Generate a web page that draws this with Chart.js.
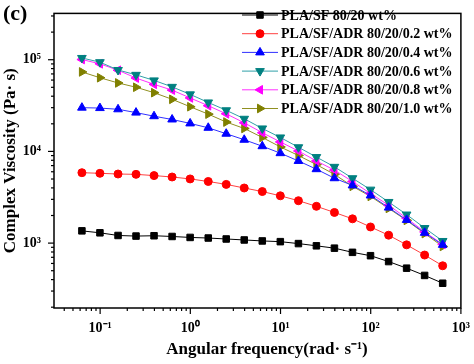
<!DOCTYPE html>
<html>
<head>
<meta charset="utf-8">
<script src="https://cdn.jsdelivr.net/npm/chart.js@4"></script>
<style>
  html, body { margin: 0; padding: 0; background: #fff; }
  #wrap { width: 474px; height: 364px; }
</style>
</head>
<body>
<div id="wrap"><canvas id="viscChart" width="474" height="364"></canvas></div>
<script>
// angular frequency (rad/s), 5 points per decade
var freq = [0.0628, 0.0995, 0.158, 0.250, 0.396, 0.628, 0.995, 1.58, 2.50, 3.96,
            6.28, 9.95, 15.8, 25.0, 39.6, 62.8, 99.5, 158, 250, 396, 628];

// complex viscosity (Pa·s)
var plaSf   = [1360, 1295, 1211, 1193, 1203, 1181, 1153, 1136, 1109, 1082,
               1056, 1037, 988, 934, 881, 793, 729, 629, 533, 444, 365];
var adr02   = [5860, 5770, 5670, 5620, 5450, 5260, 5010, 4700, 4370, 3990,
               3650, 3280, 2900, 2520, 2160, 1840, 1500, 1220, 957, 741, 566];
var adr04   = [30000, 29700, 28800, 26500, 24200, 22300, 20200, 18100, 15600, 13400,
               11400, 9570, 7870, 6400, 5100, 4260, 3310, 2440, 1790, 1295, 957];
var adr06   = [104500, 94000, 77300, 68400, 59500, 50600, 41900, 34200, 28100, 22700,
               17800, 14200, 11100, 8680, 6790, 5100, 3830, 2810, 2050, 1460, 1055];
var adr08   = [100500, 90200, 76800, 63100, 53900, 46600, 38300, 31500, 25700, 20500,
               16000, 12700, 10100, 7870, 6250, 4700, 3470, 2590, 1870, 1325, 970];
var adr10   = [73600, 63600, 55800, 50100, 43700, 37000, 30700, 25500, 20900, 17800,
               14200, 11200, 9020, 7180, 5620, 4160, 3230, 2390, 1770, 1270, 920];

var seriesNames = ['PLA/SF 80/20 wt%', 'PLA/SF/ADR 80/20/0.2 wt%', 'PLA/SF/ADR 80/20/0.4 wt%',
                   'PLA/SF/ADR 80/20/0.6 wt%', 'PLA/SF/ADR 80/20/0.8 wt%', 'PLA/SF/ADR 80/20/1.0 wt%'];

var FONT = "'Liberation Serif', 'Times New Roman', serif";
var SUP = { '-': '\u207B', '0': '\u2070', '1': '\u00B9', '2': '\u00B2', '3': '\u00B3',
            '4': '\u2074', '5': '\u2075', '6': '\u2076', '7': '\u2077', '8': '\u2078', '9': '\u2079' };

function pow10Label(v) {
  var e = Math.log10(v);
  if (Math.abs(e - Math.round(e)) > 1e-6) return '';
  return '10' + String(Math.round(e)).split('').map(function(c) { return SUP[c]; }).join('');
}

function toPoints(vals) {
  return vals.map(function(v, i) { return { x: freq[i], y: v }; });
}

function makeSet(idx, vals, color, lineColor, style, rot, r) {
  return {
    label: seriesNames[idx],
    data: toPoints(vals),
    borderColor: lineColor,
    borderWidth: 1,
    backgroundColor: color,
    pointBackgroundColor: color,
    pointBorderColor: color,
    pointBorderWidth: 1,
    pointStyle: style,
    rotation: rot,
    pointRadius: r,
    tension: 0
  };
}

// frame, log tick marks, x title, (c) tag and legend
var decorPlugin = {
  id: 'decor',
  afterDraw: function(chart) {
    var ctx = chart.ctx, a = chart.chartArea;
    ctx.save();
    ctx.strokeStyle = '#000';
    ctx.lineWidth = 1.5;
    ctx.strokeRect(a.left, a.top, a.right - a.left, a.bottom - a.top);

    ctx.lineWidth = 1.2;
    ['x', 'y'].forEach(function(id) {
      var s = chart.scales[id];
      var e0 = Math.floor(Math.log10(s.min)), e1 = Math.ceil(Math.log10(s.max));
      for (var e = e0; e <= e1; e++) {
        for (var m = 1; m <= 9; m++) {
          var v = m * Math.pow(10, e);
          if (v < s.min * 0.999 || v > s.max * 1.001) continue;
          var len = m === 1 ? 6 : 3;
          var p = s.getPixelForValue(v);
          ctx.beginPath();
          if (id === 'x') { ctx.moveTo(p, a.bottom); ctx.lineTo(p, a.bottom + len); }
          else { ctx.moveTo(a.left, p); ctx.lineTo(a.left - len, p); }
          ctx.stroke();
        }
      }
    });

    ctx.fillStyle = '#000';
    ctx.textBaseline = 'middle';
    ctx.textAlign = 'center';
    ctx.font = 'bold 17px ' + FONT;
    ctx.fillText('Angular frequency(rad\u00B7 s\u207B\u00B9)', 267, 350);

    ctx.textAlign = 'left';
    ctx.font = 'bold 22px ' + FONT;
    ctx.fillText('(c)', 3, 14);

    ctx.font = 'bold 14px ' + FONT;
    chart.data.datasets.forEach(function(ds, i) {
      var y = 15 + i * 18.7;
      ctx.strokeStyle = ds.borderColor;
      ctx.lineWidth = 1;
      ctx.beginPath();
      ctx.moveTo(242, y);
      ctx.lineTo(278, y);
      ctx.stroke();
      ctx.fillStyle = ds.pointBackgroundColor;
      ctx.strokeStyle = ds.pointBorderColor;
      Chart.helpers.drawPoint(ctx, {
        pointStyle: ds.pointStyle, rotation: ds.rotation,
        radius: ds.pointRadius, borderWidth: 1
      }, 260, y);
      ctx.fillStyle = '#000';
      ctx.fillText(ds.label, 281, y + 1);
    });
    ctx.restore();
  }
};

document.addEventListener('DOMContentLoaded', function() {
  var ctx = document.getElementById('viscChart').getContext('2d');
  new Chart(ctx, {
    type: 'line',
    data: {
      datasets: [
        makeSet(0, plaSf, '#000000', '#000000', 'rect', 0, 4.6),
        makeSet(1, adr02, '#ff0000', '#ff4040', 'circle', 0, 4),
        makeSet(2, adr04, '#0000ff', '#3030ff', 'triangle', 0, 5),
        makeSet(3, adr06, '#008080', '#30a0a8', 'triangle', 180, 5),
        makeSet(4, adr08, '#ff00ff', '#ff30ff', 'triangle', -90, 5),
        makeSet(5, adr10, '#808000', '#909020', 'triangle', 90, 5)
      ]
    },
    options: {
      responsive: false,
      animation: false,
      layout: { padding: { top: 6, right: 12, left: 0, bottom: 0 } },
      plugins: {
        legend: { display: false },
        tooltip: { enabled: false }
      },
      scales: {
        x: {
          type: 'logarithmic',
          min: 0.0308,
          max: 1000,
          grid: { display: false },
          border: { display: false },
          afterFit: function(s) { s.height = 56; },
          ticks: {
            autoSkip: false,
            maxRotation: 0,
            padding: 4,
            color: '#000',
            font: { family: FONT, size: 14, weight: 'bold' },
            callback: function(v) { return pow10Label(v); }
          }
        },
        y: {
          type: 'logarithmic',
          min: 196,
          max: 320000,
          grid: { display: false },
          border: { display: false },
          afterFit: function(s) { s.width = 54; },
          ticks: {
            autoSkip: false,
            padding: 5,
            color: '#000',
            font: { family: FONT, size: 14, weight: 'bold' },
            callback: function(v) { return pow10Label(v); }
          },
          title: {
            display: true,
            text: 'Complex Viscosity (Pa\u00B7 s)',
            color: '#000',
            padding: { top: 0, bottom: 0 },
            font: { family: FONT, size: 17, weight: 'bold' }
          }
        }
      }
    },
    plugins: [decorPlugin]
  });
});
</script>
</body>
</html>
